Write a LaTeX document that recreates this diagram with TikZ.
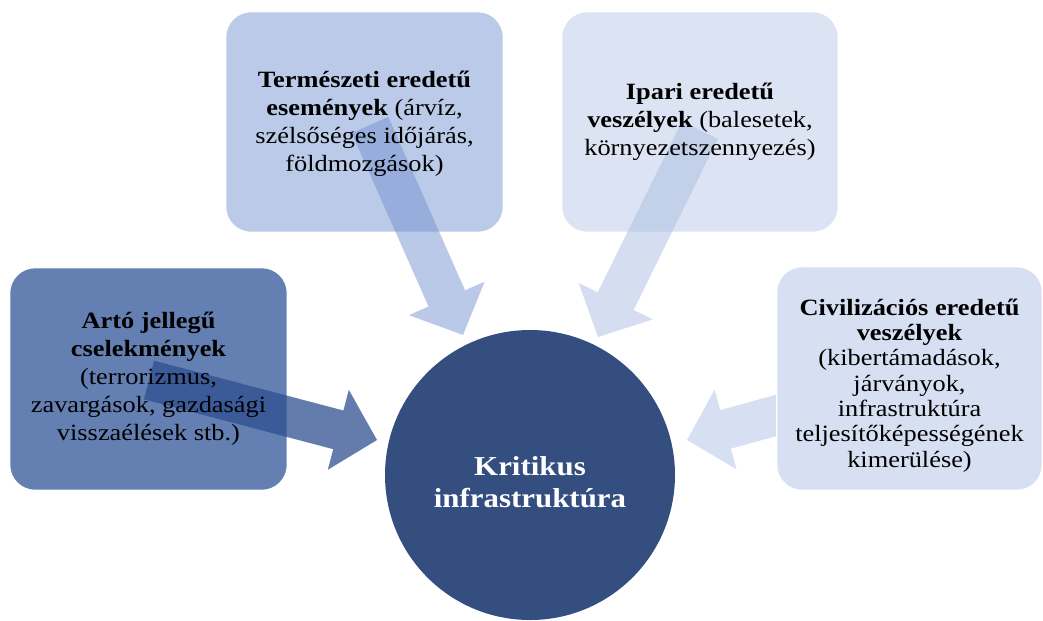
\documentclass[tikz,border=0pt]{standalone}
\usepackage{fontspec}
\setmainfont{Liberation Serif}[FakeStretch=1.13]
\usetikzlibrary{calc}
\pgfdeclarelayer{bg}
\pgfdeclarelayer{mid}
\pgfsetlayers{bg,mid,main}
\definecolor{boxL}{HTML}{6480B2}
\definecolor{boxT}{HTML}{BACAE8}
\definecolor{boxI}{HTML}{DCE4F3}
\definecolor{boxR}{HTML}{D6E0F2}
\definecolor{circ}{HTML}{344E80}
\definecolor{arrL}{HTML}{2E4E8F}
\definecolor{arrT}{HTML}{7593D1}
\definecolor{arrI}{HTML}{ABBDE3}
\newcommand\blockarr[3]{%
  \path ($(#2)!30pt!(#1)$) coordinate (ba-p);
  \fill[#3] ($(#1)!15pt!90:(#2)$) -- ($(ba-p)!15pt!90:(ba-e)$)
    -- ($(ba-p)!31pt!90:(ba-e)$) -- (#2)
    -- ($(ba-p)!31pt!-90:(ba-e)$) -- ($(ba-p)!15pt!-90:(ba-e)$)
    -- ($(#1)!15pt!-90:(#2)$) -- cycle;}
\begin{document}
\begin{tikzpicture}[x=0.75pt,y=-0.75pt,
  txt/.style={inner sep=0pt, align=center, font=\fontsize{17.5}{21}\selectfont},
  boxfill/.style={rounded corners=19pt, draw=white, line width=0.8pt}]
\useasboundingbox (0,0) rectangle (1043,621);
% text nodes (box areas)
\node[txt, minimum width=207.75pt, minimum height=166.5pt] (lbox) at (148.5,379)
  {\textbf{Artó jellegű}\\\textbf{cselekmények}\\(terrorizmus,\\zavargások, gazdasági\\visszaélések stb.)};
\node[txt, minimum width=207.75pt, minimum height=165pt] (tbox) at (364.5,124)
  {\textbf{Természeti eredetű}\\\textbf{események} (árvíz,\\szélsőséges időjárás,\\földmozgások)};
\node[txt, minimum width=207pt, minimum height=165pt] (ibox) at (700,122)
  {\textbf{Ipari eredetű}\\\textbf{veszélyek} (balesetek,\\környezetszennyezés)};
\node[txt, minimum width=198.75pt, minimum height=167.25pt, font=\fontsize{17.5}{19}\selectfont] (rbox) at (909.5,385.5)
  {\textbf{Civilizációs eredetű}\\\textbf{veszélyek}\\(kibertámadások,\\járványok,\\infrastruktúra\\teljesítőképességének\\kimerülése)};
% center circle
\node[circle, fill=circ, minimum size=217.5pt, inner sep=0pt] (kc) at (530,475) {};
\node[inner sep=0pt, text=white, align=center,
  font=\fontsize{20.5}{24}\selectfont\bfseries] (kct) at (530,482) {Kritikus\\infrastruktúra};
% arrow end points
\coordinate (ls) at (149,380);  \coordinate (le) at (377,440);
\coordinate (ts) at (370,125);  \coordinate (te) at (463,335);
\coordinate (is) at (700,130);  \coordinate (ie) at (598,337);
\coordinate (rs) at (905,380);  \coordinate (re) at (687,440);
\begin{pgfonlayer}{bg}
  \coordinate (ba-e) at (re);
  \blockarr{rs}{re}{boxR}
  \fill[boxfill, fill=boxL] (lbox.south west) rectangle (lbox.north east);
  \fill[boxfill, fill=boxT] ($(tbox.south west)+(0,-2)$) rectangle ($(tbox.north east)+(0,-2)$);
  \fill[boxfill, fill=boxI] (ibox.south west) rectangle (ibox.north east);
  \fill[boxfill, fill=boxR] ($(rbox.south west)+(0,-7)$) rectangle ($(rbox.north east)+(0,-7)$);
\end{pgfonlayer}
\begin{pgfonlayer}{mid}
  \coordinate (ba-e) at (le);
  \blockarr{ls}{le}{arrL, fill opacity=0.74}
  \coordinate (ba-e) at (te);
  \blockarr{ts}{te}{arrT, fill opacity=0.5}
  \coordinate (ba-e) at (ie);
  \blockarr{is}{ie}{arrI, fill opacity=0.5}
\end{pgfonlayer}
\end{tikzpicture}
\end{document}
